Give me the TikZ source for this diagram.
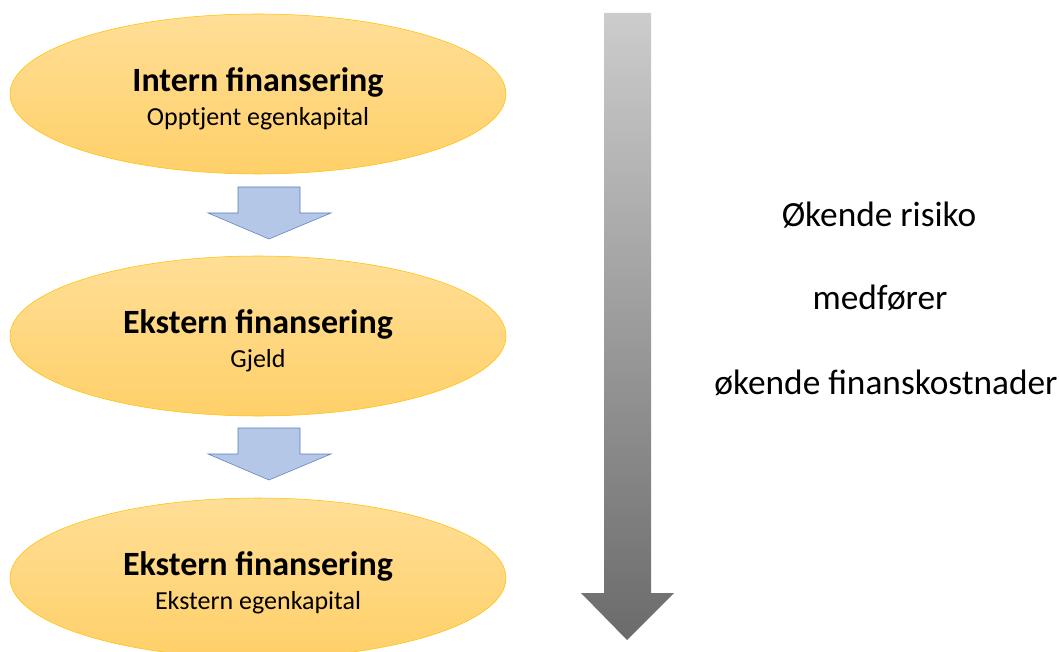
\documentclass[tikz,border=0pt]{standalone}
\usepackage{fontspec}
\setmainfont{Carlito}
\usetikzlibrary{shapes.geometric}
\definecolor{goldtop}{RGB}{255,222,150}
\definecolor{goldbot}{RGB}{255,208,105}
\definecolor{goldline}{RGB}{255,192,0}
\definecolor{bluefill}{RGB}{180,199,231}
\definecolor{blueline}{RGB}{91,125,190}
\tikzset{
  stage/.style={ellipse,draw=goldline,top color=goldtop,bottom color=goldbot,
    minimum width=372pt,minimum height=120pt,inner sep=0pt,align=center,
    font=\fontsize{20}{25.5}\selectfont},
  stepdown/.style={draw=blueline,fill=bluefill,line join=miter},
}
\newcommand{\ttl}[1]{{\fontsize{25.5}{28}\selectfont\bfseries\rule{0pt}{25pt}#1}}
\newcommand{\sub}[1]{{\fontsize{19.5}{22}\selectfont #1}}
\begin{document}
\begin{tikzpicture}[x=0.75pt,y=-0.75pt,every node/.style={font=\fontsize{26.5}{30}\selectfont}]
\useasboundingbox (0,0) rectangle (1059,652);
% three stages
\node[stage] (intern) at (258,94) {\ttl{Intern finansering}\\\sub{Opptjent egenkapital}};
\node[stage] (gjeld) at (258,336) {\ttl{Ekstern finansering}\\\sub{Gjeld}};
\node[stage] (ekstern) at (258,578) {\ttl{Ekstern finansering}\\\sub{Ekstern egenkapital}};
% block arrows between stages
\draw[stepdown] (238,187) -- (300,187) -- (300,213) -- (331,213) -- (269,239) -- (208,213) -- (238,213) -- cycle;
\draw[stepdown] (238,428) -- (300,428) -- (300,454) -- (331,454) -- (269,480) -- (208,454) -- (238,454) -- cycle;
% risk arrow
\shade[top color=black!20,bottom color=black!58]
  (604,13) -- (651,13) -- (651,593) -- (674,593) -- (627,640) -- (581,593) -- (604,593) -- cycle;
\node (risiko) at (879,215) {Økende risiko};
\node (medforer) at (880,298) {medfører};
\node (kostnad) at (886,383) {økende finanskostnader};
\end{tikzpicture}
\end{document}
